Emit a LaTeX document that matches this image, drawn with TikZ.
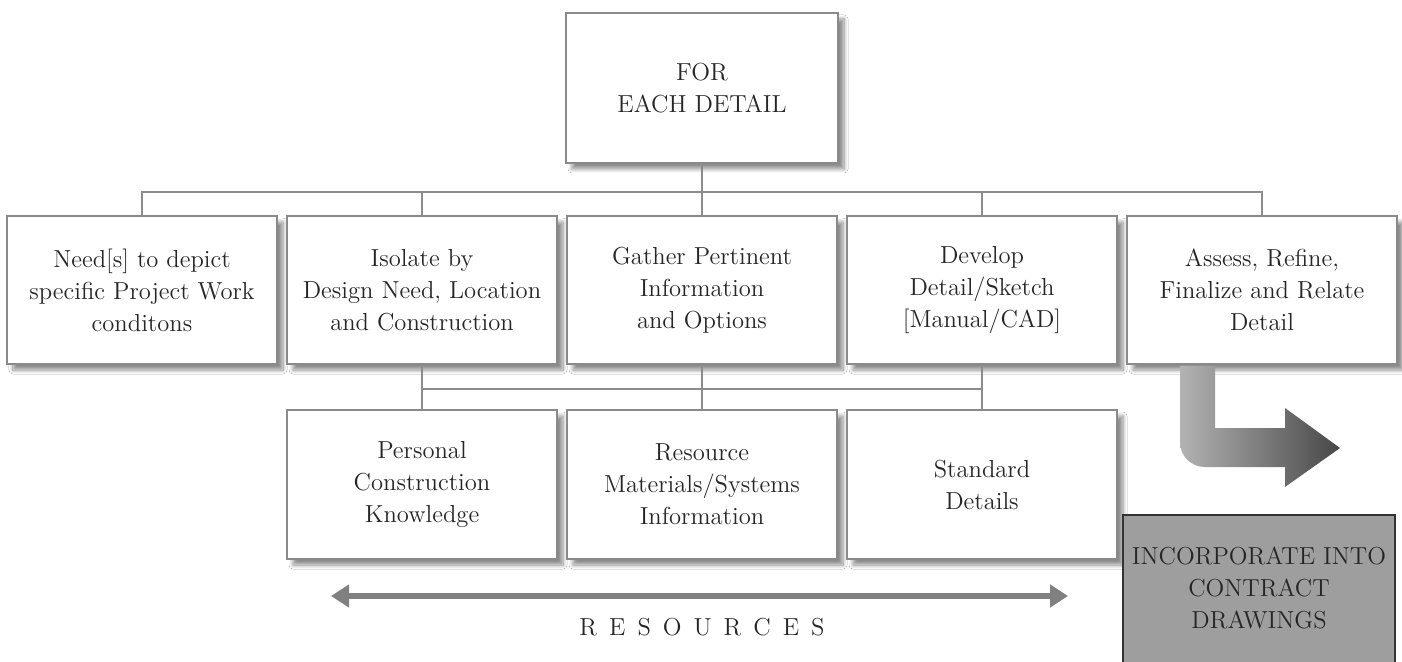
\documentclass[tikz,border=0pt]{standalone}
\usetikzlibrary{shadows.blur,arrows.meta}
\definecolor{boxline}{HTML}{8A8A8A}
\definecolor{txt}{HTML}{262626}
\definecolor{connc}{HTML}{8C8C8C}
\begin{document}
\begin{tikzpicture}[x=0.5pt,y=-0.5pt,
  box/.style={draw=boxline, line width=0.8pt, fill=white, minimum width=135pt, minimum height=74pt,
    align=center, text=txt, font=\fontsize{12.3}{16}\selectfont, inner sep=0pt,
    blur shadow={shadow xshift=3pt, shadow yshift=-3pt, shadow blur radius=2pt, shadow blur steps=8, shadow opacity=45}},
  conn/.style={draw=connc, line width=0.8pt},
  lbl/.style={text=txt, font=\fontsize{12.3}{16}\selectfont, align=center}]
\useasboundingbox (0,0) rectangle (1402,662);
\fill[white] (0,0) rectangle (1402,662);

% nodes
\node[box, minimum width=136pt, minimum height=75pt] (top) at (702,88) {FOR\\EACH DETAIL};
\node[box] (n1) at (142,290) {Need[s] to depict\\specific Project Work\\conditons};
\node[box] (n2) at (422,290) {Isolate by\\Design Need, Location\\and Construction};
\node[box] (n3) at (702,290) {Gather Pertinent\\Information\\and Options};
\node[box] (n4) at (982,290) {Develop\\Detail/Sketch\\{[Manual/CAD]}};
\node[box] (n5) at (1262,290) {Assess, Refine,\\Finalize and Relate\\Detail};
\node[box, minimum height=74.5pt] (r1) at (422,484.5) {Personal\\Construction\\Knowledge};
\node[box, minimum height=74.5pt] (r2) at (702,484.5) {Resource\\Materials/Systems\\Information};
\node[box, minimum height=74.5pt] (r3) at (982,484.5) {Standard\\Details};

% connectors
\coordinate (hb) at (702,192);
\coordinate (lb) at (702,389);
\draw[conn] (top.south) -- (top.south |- hb);
\draw[conn] (n1.north) |- (n5.north |- hb) -- (n5.north);
\foreach \n in {n2,n3,n4} {\draw[conn] (\n.north) -- (\n.north |- hb);}
\draw[conn] (n2.south) -- (r1.north);
\draw[conn] (n3.south) -- (r2.north);
\draw[conn] (n4.south) -- (r3.north);
\draw[conn] (r1.north |- lb) -- (r3.north |- lb);

% resources arrow
\coordinate (ra) at (331,596);
\coordinate (rb) at (1068,596);
\draw[line width=3pt, draw=black!50, {Triangle[length=9pt,width=11pt]}-{Triangle[length=9pt,width=11pt]}] (ra) -- (rb);
\node[lbl] (res) at (702,627) {R\hspace{6pt}E\hspace{6pt}S\hspace{6pt}O\hspace{6pt}U\hspace{6pt}R\hspace{6pt}C\hspace{6pt}E\hspace{6pt}S};

% bent arrow
\shade[left color=black!30, right color=black!72]
  (1180,366) -- (1215,366) -- (1215,428) -- (1285,428) -- (1285,408) -- (1340,448)
  -- (1285,487) -- (1285,467) -- (1205,467) .. controls (1191,467) and (1180,456) .. (1180,442) -- cycle;

% incorporate box
\fill[black!38] (1123,515) rectangle (1395,680);
\draw[black!80, line width=0.8pt] (1123,680) -- (1123,515) -- (1395,515) -- (1395,680);
\node[lbl] (inc) at (1259,588) {INCORPORATE INTO\\CONTRACT\\DRAWINGS};
\end{tikzpicture}
\end{document}
